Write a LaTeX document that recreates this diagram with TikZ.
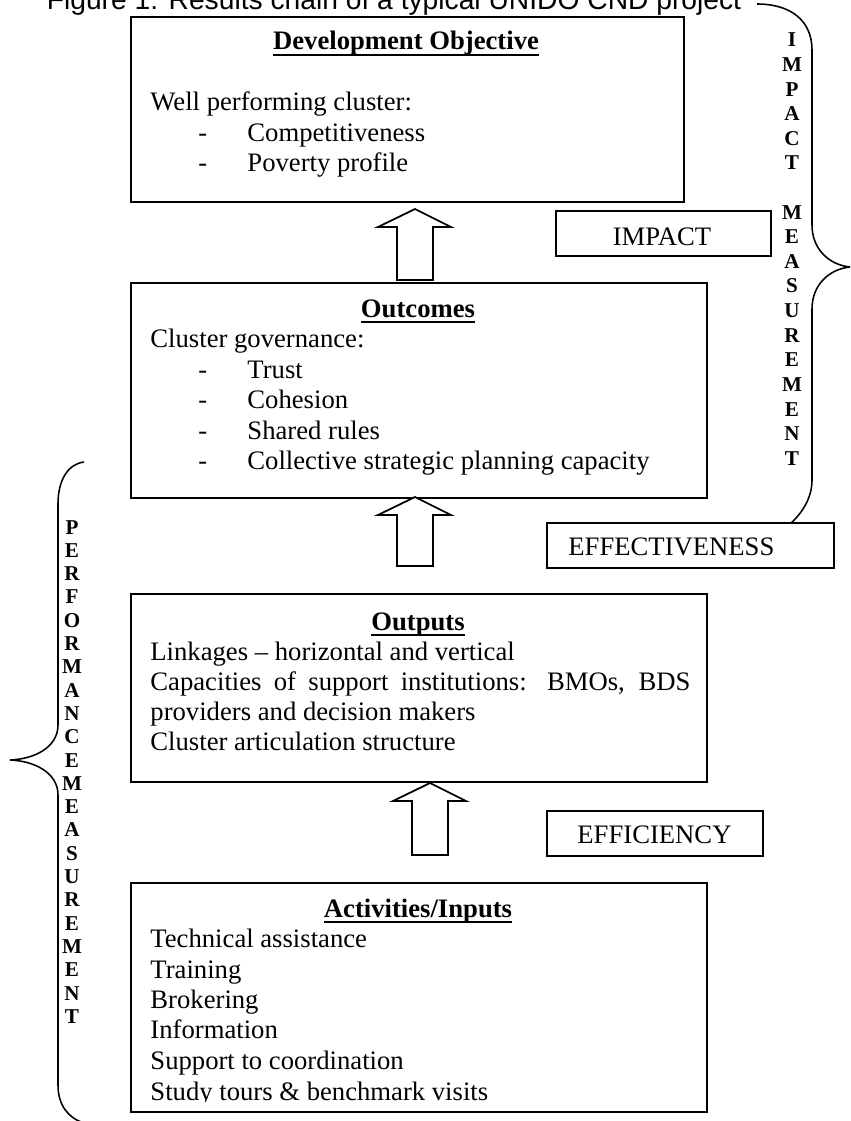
\documentclass[tikz,border=0pt]{standalone}
\usepackage{fontspec}
\setmainfont{Liberation Serif}
\newfontfamily\arialf{Liberation Sans}
\newcommand\thul[1]{\setbox0\hbox{#1}\rlap{\rule[-2.6pt]{\wd0}{0.9pt}}\box0}
\begin{document}
\begin{tikzpicture}[x=0.45pt,y=-0.45pt,
  box/.style={draw, line width=0.8pt, fill=white, inner sep=0, anchor=north west},
  txt/.style={inner sep=0, anchor=base west, font=\fontsize{12}{13.8}\selectfont},
  ctxt/.style={inner sep=0, anchor=base, font=\fontsize{12}{13.8}\selectfont},
  ttl/.style={inner sep=0, anchor=base, font=\bfseries\fontsize{12}{13.8}\selectfont},
  ltr/.style={inner sep=0, anchor=base, font=\bfseries\fontsize{9.5}{11}\selectfont},
  blockarrow/.style={draw, line width=0.8pt, fill=white, line join=miter},
  bracestyle/.style={draw, line width=0.7pt}]
\useasboundingbox (0,0) rectangle (850,1121);
\clip (0,0) rectangle (850,1121);

% title
\node[inner sep=0, anchor=base, font=\arialf\fontsize{12.7}{14}\selectfont] (title) at (394,10) {Figure 1: Results chain of a typical UNIDO CND project};

% braces
\draw[bracestyle] (757,4) .. controls (790,4) and (812,20) .. (812,50) -- (812,225)
  .. controls (812,250) and (830,265) .. (850,267)
  .. controls (830,269) and (812,284) .. (812,309) -- (812,480)
  .. controls (812,500) and (800,515) .. (790,524);
\draw[bracestyle] (84,462) .. controls (68,464) and (58,480) .. (58,504) -- (58,725)
  .. controls (58,747) and (35,759) .. (10,760)
  .. controls (35,761) and (58,773) .. (58,795) -- (58,1085)
  .. controls (58,1105) and (68,1118) .. (84,1123);

% boxes
\node[box, minimum width=248.85pt, minimum height=83.25pt] (dev) at (130,16) {};
\node[box, minimum width=259.2pt, minimum height=96.75pt] (outc) at (130,282) {};
\node[box, minimum width=259.2pt, minimum height=84.6pt] (outp) at (130,593) {};
\node[box, minimum width=259.2pt, minimum height=103.05pt] (act) at (130,882) {};
\node[box, minimum width=96.75pt, minimum height=20.25pt] (imp) at (555,210) {};
\node[box, minimum width=129.15pt, minimum height=20.25pt] (eff) at (546,522) {};
\node[box, minimum width=97.2pt, minimum height=20.25pt] (effi) at (546,810) {};

% block arrows
\foreach \n/\c/\t/\b in {a1/415/209/280, a2/415/497/566, a3/430/783/855}{
  \coordinate (\n) at (\c,\t);
  \draw[blockarrow] (\n) -- (\c+36,\t+18) -- (\c+18,\t+18) -- (\c+18,\b) -- (\c-18,\b) -- (\c-18,\t+18) -- (\c-37,\t+18) -- cycle;
}

% small box labels
\node[ctxt] (impt) at (662,245) {IMPACT};
\node[txt] (efft) at (568,555) {EFFECTIVENESS};
\node[txt] (effit) at (577,843) {EFFICIENCY};

% development objective
\node[ttl] (devt) at (406,50) {\thul{Development Objective}};
\node[txt] (d1) at (150,111) {Well performing cluster:};
\node[txt] (d2a) at (198,142) {-};
\node[txt] (d2) at (247,142) {Competitiveness};
\node[txt] (d3a) at (198,172) {-};
\node[txt] (d3) at (247,172) {Poverty profile};

% outcomes
\node[ttl] (outct) at (418,317) {\thul{Outcomes}};
\node[txt] (o1) at (150,347) {Cluster governance:};
\node[txt] (o2a) at (198,378) {-};
\node[txt] (o2) at (247,378) {Trust};
\node[txt] (o3a) at (198,408) {-};
\node[txt] (o3) at (247,408) {Cohesion};
\node[txt] (o4a) at (198,439) {-};
\node[txt] (o4) at (247,439) {Shared rules};
\node[txt] (o5a) at (198,469) {-};
\node[txt] (o5) at (247,469) {Collective strategic planning capacity};

% outputs
\node[ttl] (outpt) at (418,630) {\thul{Outputs}};
\node[txt] (p1) at (150,660) {Linkages -- horizontal and vertical};
\node[txt] (p2) at (150,690) {\makebox[243pt][s]{Capacities of support institutions: BMOs, BDS}};
\node[txt] (p3) at (150,720) {providers and decision makers};
\node[txt] (p4) at (150,750) {Cluster articulation structure};

% activities
\node[ttl] (actt) at (418,917) {\thul{Activities/Inputs}};
\node[txt] (c1) at (150,947) {Technical assistance};
\node[txt] (c2) at (150,978) {Training};
\node[txt] (c3) at (150,1008) {Brokering};
\node[txt] (c4) at (150,1038) {Information};
\node[txt] (c5) at (150,1069) {Support to coordination};
\begin{scope}
\clip (130,1080) rectangle (706,1101.5);
\node[txt] (c6) at (150,1100) {Study tours \& benchmark visits};
\end{scope}

% vertical letters
\foreach \l [count=\i from 0] in {I,M,P,A,C,T}{
  \node[ltr] (r\i) at (792,47+24.6*\i) {\l};
}
\foreach \l [count=\i from 7] in {M,E,A,S,U,R,E,M,E,N,T}{
  \node[ltr] (r\i) at (792,47+24.6*\i) {\l};
}
\foreach \l [count=\i from 0] in {P,E,R,F,O,R,M,A,N,C,E,M,E,A,S,U,R,E,M,E,N,T}{
  \node[ltr] (l\i) at (72,534+23.3*\i) {\l};
}
\end{tikzpicture}
\end{document}
